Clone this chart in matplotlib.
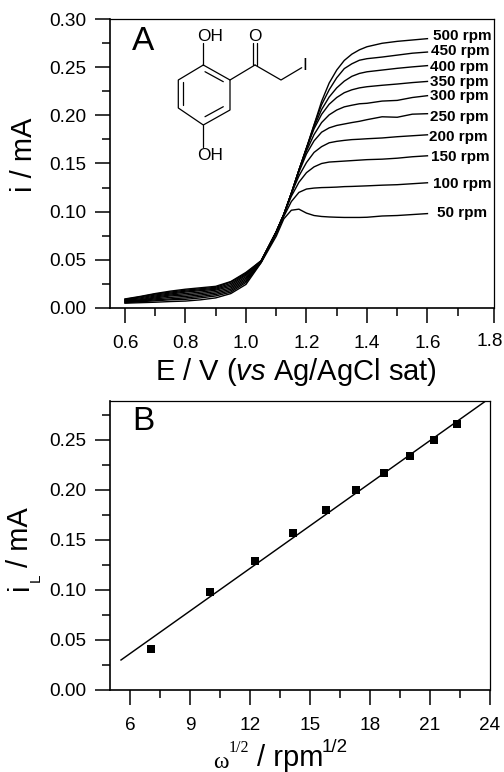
import numpy as np
import matplotlib
matplotlib.use("Agg")
import matplotlib.pyplot as plt
from matplotlib.lines import Line2D
from matplotlib.ticker import MultipleLocator, FixedLocator, FormatStrFormatter

plt.rcParams['font.family'] = ['Liberation Sans', 'DejaVu Sans']
plt.rcParams['mathtext.fontset'] = 'custom'
plt.rcParams['mathtext.it'] = 'Liberation Sans:italic'
plt.rcParams['mathtext.rm'] = 'Liberation Sans'

# ---------- data ----------
E = [0.60,0.65,0.70,0.75,0.80,0.85,0.90,0.95,1.00,1.05,1.10,1.125,1.15,1.175,1.20,1.225,
     1.25,1.275,1.30,1.325,1.35,1.375,1.40,1.45,1.50,1.55,1.60]
i50  = [.005,.0055,.006,.0067,.0072,.0085,.0105,.015,.0245,.047,.0745,.0925,.1015,.1026,.0985,.096,.095,.0945,.0942,.094,.094,.094,.0942,.0955,.096,.097,.098]
i100 = [.0055,.0065,.0075,.0085,.009,.0105,.0125,.0165,.0265,.0475,.077,.095,.1105,.120,.1235,.1245,.125,.1252,.1255,.126,.1262,.1265,.1268,.1275,.128,.129,.130]
i150 = [.006,.007,.0085,.0095,.0105,.012,.014,.018,.028,.0475,.079,.097,.116,.1305,.1405,.1465,.150,.1515,.152,.1525,.153,.1535,.154,.1545,.1555,.157,.158]
i200 = [.0065,.0075,.0095,.011,.012,.0135,.0155,.0195,.0295,.048,.079,.097,.119,.137,.151,.1615,.1675,.1715,.173,.174,.1748,.1752,.1757,.1765,.1778,.1788,.1798]
i250 = [.007,.008,.0105,.0125,.0135,.015,.017,.021,.031,.048,.079,.097,.119,.141,.160,.1735,.1825,.187,.1895,.191,.1925,.1938,.1955,.1985,.198,.2012,.2017]
i300 = [.0075,.0085,.0115,.0135,.015,.0165,.0185,.0225,.0325,.0485,.079,.097,.119,.143,.163,.180,.1925,.2005,.2055,.2088,.2105,.212,.2125,.2148,.2155,.2185,.2204]
i350 = [.008,.0095,.0125,.0145,.0165,.018,.0195,.024,.034,.0485,.079,.097,.119,.143,.166,.186,.201,.2115,.2185,.2235,.2265,.2285,.2297,.2312,.2325,.2340,.2352]
i400 = [.0085,.0105,.0135,.0155,.0175,.019,.0205,.0255,.035,.049,.079,.097,.119,.143,.166,.188,.206,.219,.2285,.2355,.2405,.2435,.2452,.2470,.2488,.2503,.2516]
i450 = [.009,.0115,.0145,.0165,.0185,.02,.0215,.027,.036,.049,.079,.097,.119,.143,.166,.190,.211,.2265,.2390,.2485,.2535,.2572,.2588,.2605,.2625,.2645,.2657]
i500 = [.0094,.012,.015,.0175,.0195,.021,.0225,.0275,.037,.049,.079,.097,.119,.143,.166,.190,.2145,.2335,.247,.257,.2635,.268,.2712,.2748,.2768,.2782,.2796]
curves_A = [i50,i100,i150,i200,i250,i300,i350,i400,i450,i500]
rpm_labels = ['50 rpm','100 rpm','150 rpm','200 rpm','250 rpm','300 rpm','350 rpm','400 rpm','450 rpm','500 rpm']

sqrt_rpm = [7.07,10.0,12.25,14.14,15.81,17.32,18.71,20.0,21.21,22.36]
i_lim    = [.041,.098,.129,.157,.180,.200,.217,.234,.250,.266]
fit_x = [5.55,23.75]
fit_y = [.030,.2885]

xticks_A = [0.6,0.8,1.0,1.2,1.4,1.6,1.82]
xticklabels_A = ['0.6','0.8','1.0','1.2','1.4','1.6','']
xminor_A = [0.7,0.9,1.1,1.3,1.5,1.7]

# ---------- layout helpers ----------
W, H = 504, 772
fig = plt.figure(figsize=(W/100, H/100), dpi=100, facecolor='white')

def box(l, t, r, b):
    return [l/W, 1-b/H, (r-l)/W, (b-t)/H]

def ftext(x, y, s, **kw):
    kw.setdefault('ha', 'center'); kw.setdefault('va', 'center')
    return fig.text(x/W, 1-y/H, s, **kw)

def fline(xs, ys, lw=0.9):
    fig.add_artist(Line2D([x/W for x in xs], [1-y/H for y in ys], color='k', lw=lw,
                          transform=fig.transFigure, solid_capstyle='round'))

def style(ax):
    for s in ax.spines.values():
        s.set_linewidth(0.9)
    ax.spines['left'].set_linewidth(1.2)
    ax.spines['bottom'].set_linewidth(1.2)
    ax.tick_params(which='major', length=10.8, width=1.1, labelsize=13.7, pad=6.5, axis='y')
    ax.tick_params(which='minor', length=5.8, width=1.1, axis='y')
    ax.tick_params(which='major', length=10.8, width=1.1, labelsize=13.7, pad=8.5, axis='x')
    ax.tick_params(which='minor', length=5.8, width=1.1, axis='x')

# ---------- panel A ----------
axA = fig.add_axes(box(110, 19, 494, 308))
for c in curves_A:
    axA.plot(E, c, color='k', lw=1.0, solid_joinstyle='round')
axA.set_xlim(0.5504, 1.82)
axA.set_ylim(0, 0.30)
axA.xaxis.set_major_locator(FixedLocator(xticks_A))
axA.set_xticklabels(xticklabels_A)
axA.xaxis.set_minor_locator(FixedLocator(xminor_A))
axA.yaxis.set_major_locator(MultipleLocator(0.05))
axA.yaxis.set_minor_locator(MultipleLocator(0.025))
axA.yaxis.set_major_formatter(FormatStrFormatter('%.2f'))
style(axA)
ftext(490, 342, '1.8', fontsize=13.7)

label_pos = [(437,213),(433,184),(431,157),(429,137),(430,117),(430,96),(430,82),(430,67),(431,51),(433,36)]
for (px, py), s in zip(label_pos, rpm_labels):
    ftext(px, py, s, ha='left', fontsize=11, fontweight='bold')

ftext(143, 42, 'A', fontsize=24)
ftext(24, 155, 'i / mA', fontsize=21, rotation=90)
ftext(296, 372, r'E / V ($\mathit{vs}$ Ag/AgCl sat)', fontsize=21)

# molecule (drawing annotation, in figure pixels)
rx = [203.3,230,230,203.3,178.3,178.3,203.3]
ry = [65,80,110,125,108,80,65]
fline(rx, ry)
fline([205,223.3],[71.7,81.7])
fline([183,183],[82,105])
fline([205,223.3],[116.7,106.7])
fline([203.3,203.3],[43,65])
fline([203.3,203.3],[125,147])
fline([230,255],[80,65])
fline([253.3,253.3],[65,43])
fline([257.3,257.3],[65,43])
fline([255,281,301.7],[65,80,67.7])
ftext(210,36.5,'OH',fontsize=12.4)
ftext(210,155,'OH',fontsize=12.4)
ftext(255,36.5,'O',fontsize=12.4)
ftext(305,66,'I',fontsize=12.4)

# ---------- panel B ----------
axB = fig.add_axes(box(110, 401, 490, 690))
axB.plot(fit_x, fit_y, color='k', lw=1.05)
axB.plot(sqrt_rpm, i_lim, ls='none', marker='s', color='k', ms=5.8, mew=0)
axB.set_xlim(5, 24)
axB.set_ylim(0, 0.289)
axB.xaxis.set_major_locator(MultipleLocator(3))
axB.xaxis.set_minor_locator(MultipleLocator(1.5))
axB.yaxis.set_major_locator(MultipleLocator(0.05))
axB.yaxis.set_minor_locator(MultipleLocator(0.025))
axB.yaxis.set_major_formatter(FormatStrFormatter('%.2f'))
style(axB)

ftext(143, 421, 'B', fontsize=24)
ftext(20, 587, 'i', fontsize=21, rotation=90)
ftext(36, 578, 'L', fontsize=11, rotation=90)
ftext(20, 537, '/ mA', fontsize=21, rotation=90)

ftext(220.5, 763, '\u03c9', fontsize=17, family='Liberation Serif')
ftext(239, 748, '1/2', fontsize=11.5, family='Liberation Serif')
ftext(290, 758, '/ rpm', fontsize=21)
ftext(335, 747, '1/2', fontsize=13.5)

fig.savefig('out.png', dpi=100, facecolor='white')
